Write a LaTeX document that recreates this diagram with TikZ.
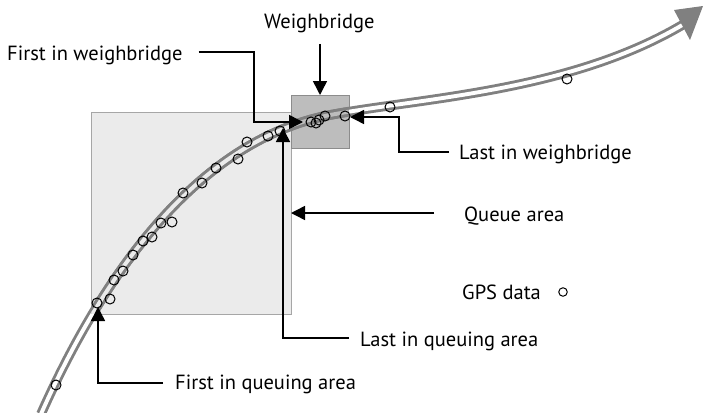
\documentclass[tikz,border=0pt]{standalone}
\usepackage{fontspec}
\setmainfont{PT Sans}
\usetikzlibrary{arrows.meta}
\definecolor{qfill}{HTML}{EBEBEB}
\definecolor{qborder}{HTML}{A6A6A6}
\definecolor{wbfill}{HTML}{BDBDBD}
\definecolor{wbborder}{HTML}{8C8C8C}
\definecolor{roadgray}{HTML}{808080}
\begin{document}
\begin{tikzpicture}[x=1pt,y=-1pt,
  lbl/.style={anchor=base west, inner sep=0pt, font=\fontsize{20.5}{24}\selectfont},
  conn/.style={line width=1.5pt, -{Triangle[length=14pt,width=14pt]}},
  gps/.style={circle, draw=black, line width=1pt, minimum size=10pt, inner sep=0pt},
  road/.style={draw=roadgray, line width=2.9pt, double distance=3.9pt},
  area/.style={anchor=north west, inner sep=0pt, outer sep=0pt, line width=1pt}]
\useasboundingbox (0,0) rectangle (703,412);
\clip (0,0) rectangle (703,412);
\def\roadpath{(41,414) .. controls (105,270) and (200,140) .. (330,115) .. controls (420,98) and (570,92) .. (684,24)}
% areas
\node[area, draw=qborder, fill=qfill, minimum width=200pt, minimum height=202pt] (queue) at (91,112) {};
\node[area, draw=wbborder, fill=wbfill, minimum width=58pt, minimum height=53pt] (wb) at (291,95) {};
% road
\draw[road, double=white] \roadpath;
\begin{scope}
  \clip (91.5,112.5) rectangle (290.5,313.5);
  \draw[road, double=qfill] \roadpath;
\end{scope}
\begin{scope}
  \clip (291.5,95.5) rectangle (348.5,147.5);
  \draw[road, double=wbfill] \roadpath;
\end{scope}
\fill[roadgray] (674,10) -- (703,6) -- (690,40) -- cycle;
% GPS points
\foreach \px/\py [count=\i] in {56/385, 97/303, 110/299, 114/280, 123/271, 133/255, 143/241, 152/237, 161/223, 172/222,
  183/193, 202/183, 216/168, 238/159, 247/142, 268/136, 280/131,
  311/122, 316/123, 319/120, 325/116, 345/116, 390/107, 567/79}
  \node[gps] (g\i) at (\px,\py) {};
% labels
\node[lbl] (tWB) at (264,29) {Weighbridge};
\node[lbl] (tFWB) at (7,60) {First in weighbridge};
\node[lbl] (tLWB) at (459,159) {Last in weighbridge};
\node[lbl] (tQA) at (464,221) {Queue area};
\node[lbl] (tGPS) at (462,299) {GPS data};
\node[gps, minimum size=8.5pt] (legend) at (563,292) {};
\node[lbl] (tLQA) at (360,346) {Last in queuing area};
\node[lbl] (tFQA) at (175,389) {First in queuing area};
% targets
\coordinate (fwbT) at (303,122);
\coordinate (lwbT) at (350,117);
\coordinate (lqaT) at (283,128);
\coordinate (fqaT) at (98,307);
% connectors
\draw[conn] (tWB.base west) ++(56,15) -- (wb.north);
\draw[conn] (tFWB.base east) ++(16,-8) -| (254,122) -- (fwbT);
\draw[conn] (tLWB.base west) ++(-10,-7) -| (399,117) -- (lwbT);
\draw[conn] (tQA.base west) ++(-30,-8) -- (queue.east);
\draw[conn] (tLQA.base west) ++(-11,-8) -| (lqaT);
\draw[conn] (tFQA.base west) ++(-12,-6) -| (fqaT);
\end{tikzpicture}
\end{document}
